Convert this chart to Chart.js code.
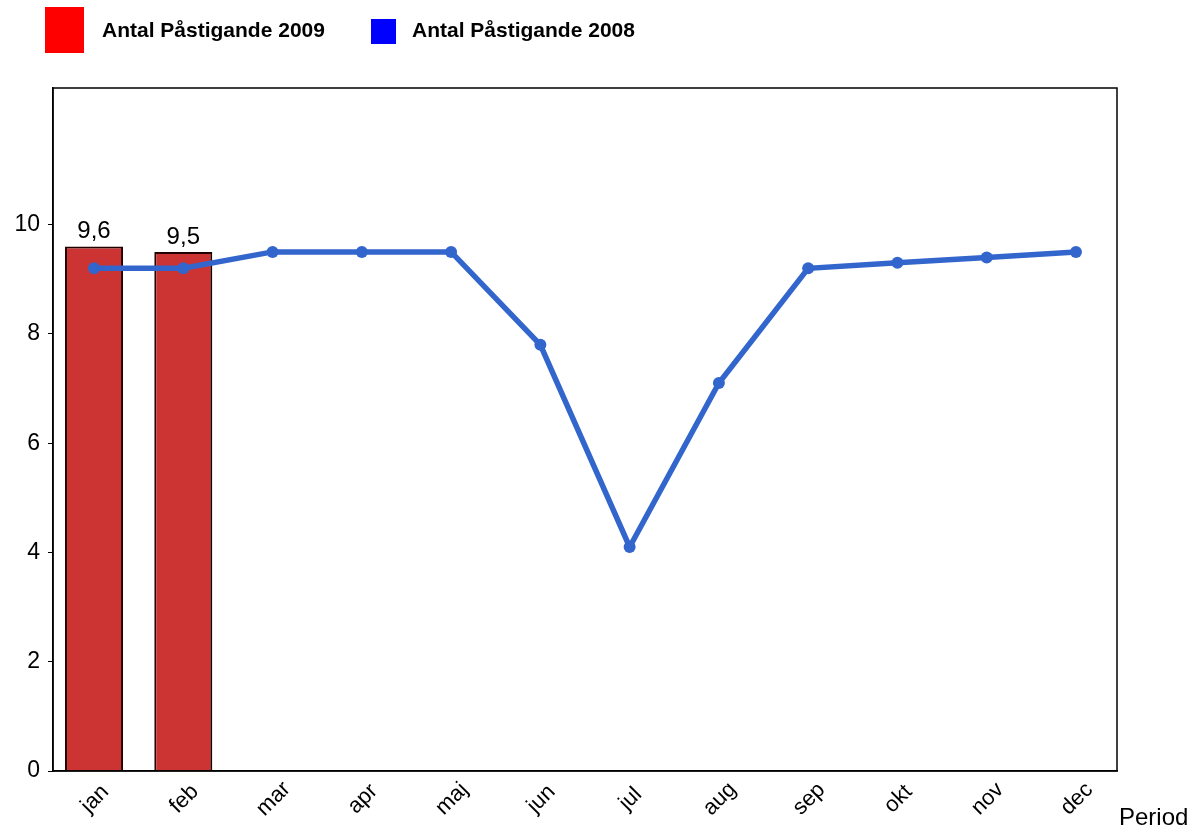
<!DOCTYPE html>
<html>
<head>
<meta charset="utf-8">
<script src="https://cdn.jsdelivr.net/npm/chart.js@4/dist/chart.umd.min.js"></script>
<style>
  body { margin: 0; background: #fff; font-family: "Liberation Sans", Arial, sans-serif; }
  #wrap { position: relative; width: 1202px; height: 830px; }
  .leg { position: absolute; font-weight: bold; font-size: 21px; color: #000; }
  .sw { position: absolute; }
</style>
</head>
<body>
<div id="wrap">
  <div class="sw" style="left:45px;top:7px;width:39px;height:46px;background:#ff0000"></div>
  <div class="leg" style="left:102px;top:18px">Antal Påstigande 2009</div>
  <div class="sw" style="left:371px;top:19px;width:25px;height:25px;background:#0000ff"></div>
  <div class="leg" style="left:412px;top:18px">Antal Påstigande 2008</div>
  <canvas id="c" width="1202" height="830"></canvas>
</div>
<script>
  const months = ["jan","feb","mar","apr","maj","jun","jul","aug","sep","okt","nov","dec"];
  const pass2009 = [9.6, 9.5, null, null, null, null, null, null, null, null, null, null];
  const pass2008 = [9.2, 9.2, 9.5, 9.5, 9.5, 7.8, 4.1, 7.1, 9.2, 9.3, 9.4, 9.5];
  const yTicks = [0, 2, 4, 6, 8, 10];

  const FONT = "'Liberation Sans', Arial, sans-serif";

  const extras = {
    id: "extras",
    afterLayout(chart) {
      // spread categories a bit wider than the frame, like the original
      const x = chart.scales.x;
      x._startPixel = x.left - 3.6;
      x._endPixel = x.right + 3.6;
      x._length = x._endPixel - x._startPixel;
    },
    afterDraw(chart) {
      const ctx = chart.ctx, a = chart.chartArea, x = chart.scales.x;
      ctx.save();
      ctx.strokeStyle = "#000";
      ctx.lineWidth = 1.5;
      ctx.strokeRect(a.left, a.top, a.right - a.left, a.bottom - a.top);
      // value labels above bars
      ctx.fillStyle = "#000";
      ctx.font = "24px " + FONT;
      ctx.textAlign = "center";
      ctx.textBaseline = "bottom";
      chart.getDatasetMeta(0).data.forEach(function(bar, i) {
        if (pass2009[i] == null) return;
        ctx.fillText(String(pass2009[i]).replace(".", ","), bar.x, bar.y - 3);
      });
      // rotated month labels, centred under each category
      ctx.font = "22px " + FONT;
      ctx.textBaseline = "middle";
      months.forEach(function(m, i) {
        ctx.save();
        ctx.translate(x.getPixelForValue(i) + 1, a.bottom + 28);
        ctx.rotate(-Math.PI / 4);
        ctx.fillText(m, 0, 0);
        ctx.restore();
      });
      // axis title
      ctx.font = "24px " + FONT;
      ctx.textAlign = "left";
      ctx.textBaseline = "alphabetic";
      ctx.fillText("Period", 1119, 825);
      ctx.restore();
    }
  };

  new Chart(document.getElementById("c"), {
    data: {
      labels: months,
      datasets: [
        {
          type: "bar",
          label: "Antal Påstigande 2009",
          data: pass2009,
          backgroundColor: "#cc3333",
          borderColor: "#220000",
          borderWidth: 2,
          barPercentage: 0.65,
          categoryPercentage: 1,
          order: 2
        },
        {
          type: "line",
          label: "Antal Påstigande 2008",
          data: pass2008,
          borderColor: "#3366cc",
          backgroundColor: "#3366cc",
          borderWidth: 5.5,
          pointRadius: 6,
          pointBackgroundColor: "#3366cc",
          pointBorderWidth: 0,
          tension: 0,
          order: 1
        }
      ]
    },
    options: {
      responsive: false,
      animation: false,
      layout: { padding: { top: 88, right: 85, left: 0, bottom: 0 } },
      plugins: { legend: { display: false }, tooltip: { enabled: false } },
      scales: {
        x: {
          grid: { display: false },
          border: { color: "#000", width: 1.5 },
          ticks: { display: false },
          afterFit(s) { s.height = 59; }
        },
        y: {
          min: 0, max: 12.5,
          grid: { display: true, drawOnChartArea: false, drawTicks: true, tickLength: 5, color: "#000", lineWidth: 1 },
          border: { color: "#000", width: 1.5 },
          afterBuildTicks(s) { s.ticks = yTicks.map(function(v) { return { value: v }; }); },
          ticks: { color: "#000", font: { size: 23, family: FONT }, padding: 8 },
          afterFit(s) { s.width = 53; }
        }
      }
    },
    plugins: [extras]
  });
</script>
</body>
</html>
